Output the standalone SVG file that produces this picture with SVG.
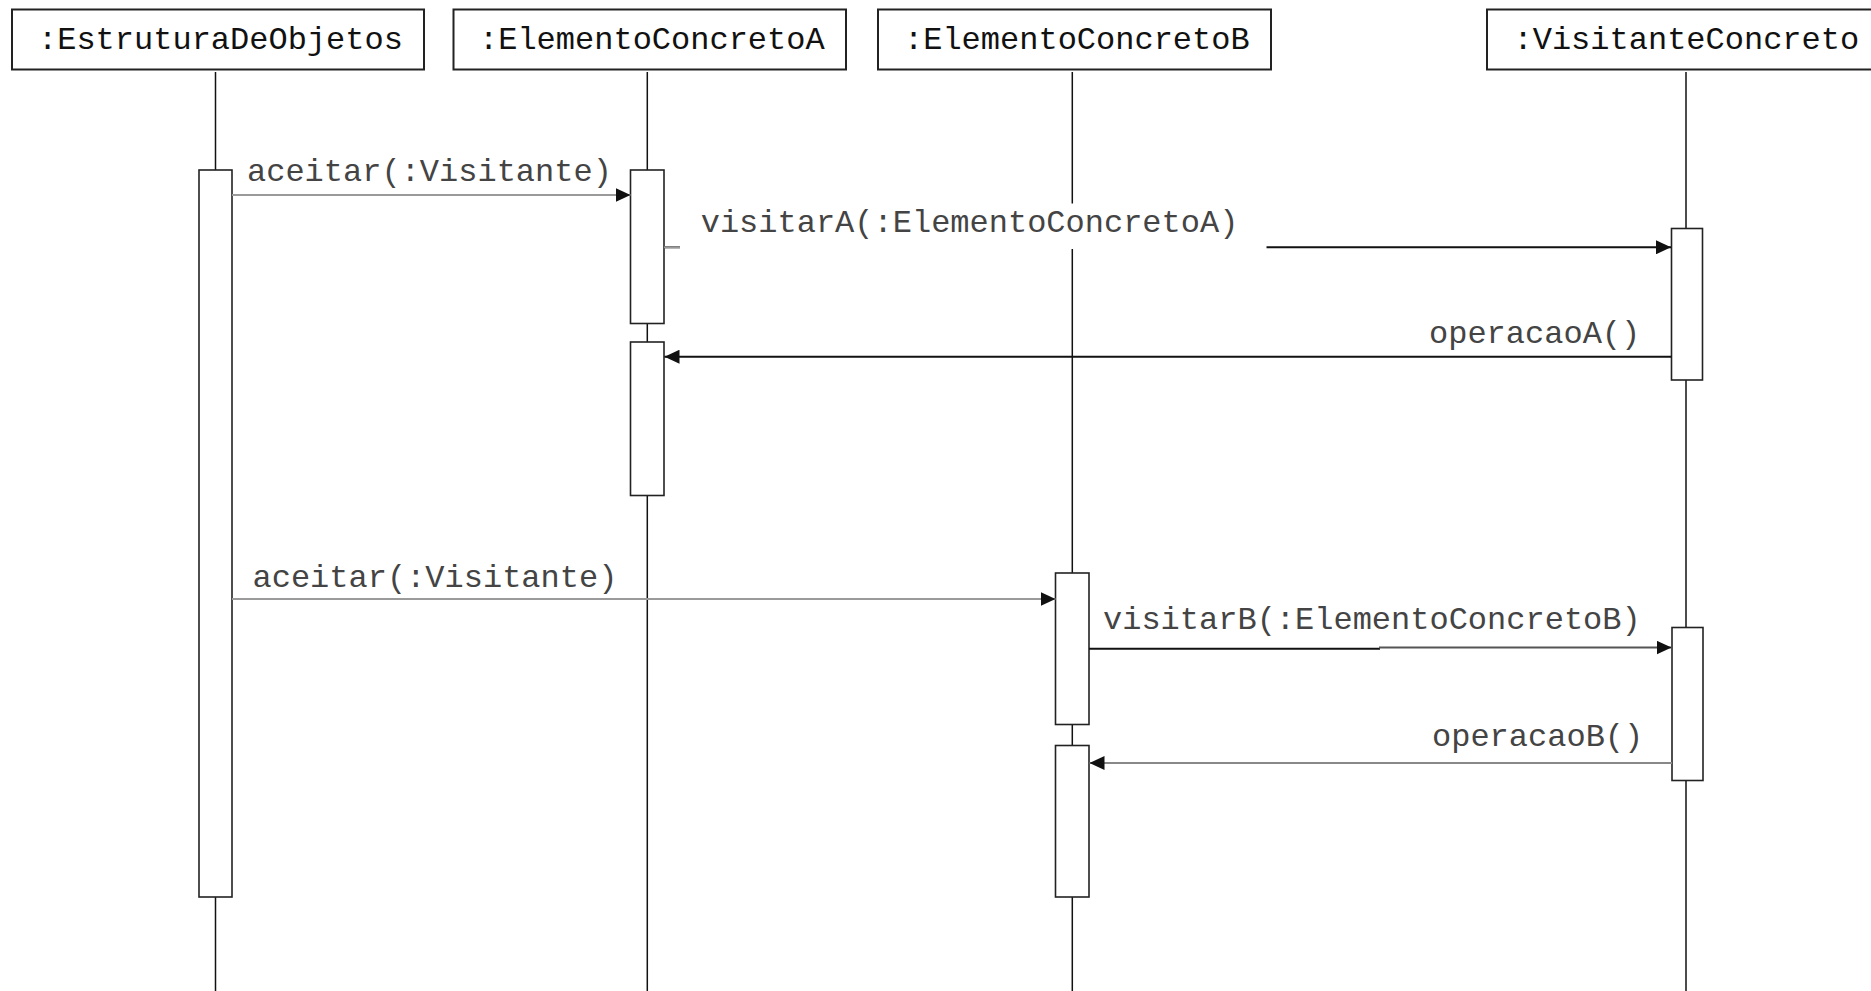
<svg xmlns="http://www.w3.org/2000/svg" width="1871" height="991" viewBox="0 0 1871 991">
<style>
.box{fill:#fff;stroke:#222;stroke-width:2}
.life{stroke:#111;stroke-width:1.5;fill:none}
.act{fill:#fff;stroke:#222;stroke-width:1.6}
.title{font-family:"Liberation Mono","Courier New",monospace;font-size:32px;fill:#111}
.msg{font-family:"Liberation Mono","Courier New",monospace;font-size:32px;fill:#444}
.gray{stroke:#9a9a9a;stroke-width:2.2;fill:none}
.black{stroke:#111;stroke-width:2;fill:none}
</style>
<defs>
<marker id="ah" markerUnits="userSpaceOnUse" markerWidth="16" markerHeight="14" refX="15" refY="7" orient="auto">
<path d="M0,0 L15,7 L0,14 z" fill="#111"/>
</marker>
</defs>
<rect width="1871" height="991" fill="#fff"/>
<g id="estrutura">
<line class="life" x1="215.5" y1="72" x2="215.5" y2="991"/>
<rect class="box" x="12" y="9.5" width="412" height="60"/>
<text class="title" x="38" y="49">:EstruturaDeObjetos</text>
<rect class="act" x="199" y="170" width="33" height="727"/>
</g>
<g id="elementoA">
<line class="life" x1="647.3" y1="72" x2="647.3" y2="991"/>
<rect class="box" x="453.5" y="9.5" width="392.5" height="60"/>
<text class="title" x="479" y="49">:ElementoConcretoA</text>
<rect class="act" x="630.5" y="170" width="33.5" height="153.5"/>
<rect class="act" x="630.5" y="342" width="33.5" height="153.5"/>
</g>
<g id="elementoB">
<line class="life" x1="1072.3" y1="72" x2="1072.3" y2="991"/>
<rect class="box" x="878" y="9.5" width="393" height="60"/>
<text class="title" x="904" y="49">:ElementoConcretoB</text>
<rect class="act" x="1055.5" y="573" width="33.5" height="151.5"/>
<rect class="act" x="1055.5" y="745.5" width="33.5" height="151.5"/>
</g>
<g id="visitante">
<line class="life" x1="1686" y1="72" x2="1686" y2="991"/>
<rect class="box" x="1487" y="9.5" width="393" height="60"/>
<text class="title" x="1513.5" y="49">:VisitanteConcreto</text>
<rect class="act" x="1671.5" y="228.5" width="31" height="151.5"/>
<rect class="act" x="1672" y="627.5" width="31" height="153"/>
</g>
<g id="connectors">
<line class="gray" x1="232" y1="195" x2="630.5" y2="195" marker-end="url(#ah)"/>
<text class="msg" x="247" y="181">aceitar(:Visitante)</text>
<line class="black" x1="664" y1="247.3" x2="1671" y2="247.3" marker-end="url(#ah)"/>
<line x1="664" y1="247.3" x2="680" y2="247.3" stroke="#999" stroke-width="2"/>
<rect x="680" y="203.5" width="586.5" height="45.5" fill="#fff"/>
<text class="msg" x="700.7" y="232">visitarA(:ElementoConcretoA)</text>
<line class="black" x1="1671.5" y1="356.7" x2="664.5" y2="356.7" marker-end="url(#ah)"/>
<text class="msg" x="1429" y="343">operacaoA()</text>
<line class="gray" x1="232" y1="599" x2="1055.5" y2="599" marker-end="url(#ah)"/>
<text class="msg" x="252.5" y="586.5">aceitar(:Visitante)</text>
<line class="black" x1="1089" y1="648.8" x2="1380" y2="648.8"/>
<line x1="1379" y1="647.6" x2="1671.5" y2="647.6" stroke="#555" stroke-width="2" marker-end="url(#ah)"/>
<text class="msg" x="1103" y="629">visitarB(:ElementoConcretoB)</text>
<line x1="1672" y1="763" x2="1089.5" y2="763" stroke="#888" stroke-width="2.2" marker-end="url(#ah)"/>
<text class="msg" x="1432" y="746">operacaoB()</text>
</g>
</svg>
